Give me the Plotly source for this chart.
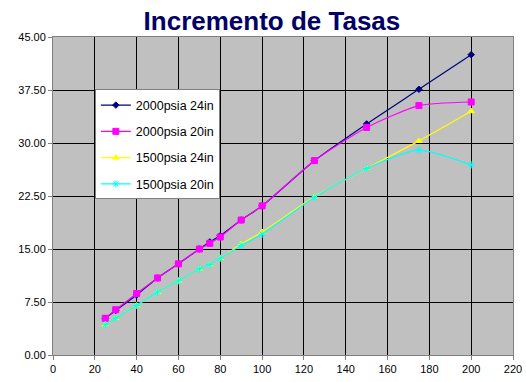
import plotly.graph_objects as go

# Caudal (x) y tasa (y) por presión y diámetro
x_vals = [25, 30, 40, 50, 60, 70, 75, 80, 90, 100, 125, 150, 175, 200]

p2000_24in = [5.2, 6.3, 8.5, 10.9, 12.9, 15.0, 16.0, 16.9, 19.1, 21.1, 27.5, 32.7, 37.6, 42.5]
p2000_20in = [5.2, 6.4, 8.7, 10.9, 12.9, 15.0, 15.8, 16.7, 19.1, 21.1, 27.5, 32.2, 35.3, 35.8]
p1500_24in = [4.3, 5.2, 7.0, 8.9, 10.5, 12.2, 12.8, 13.7, 15.7, 17.4, 22.4, 26.4, 30.3, 34.5]
p1500_20in = [4.3, 5.2, 7.0, 8.9, 10.5, 12.2, 12.8, 13.7, 15.5, 17.1, 22.3, 26.4, 29.0, 26.9]

series_names = ["2000psia 24in", "2000psia 20in", "1500psia 24in", "1500psia 20in"]
series_vals = [p2000_24in, p2000_20in, p1500_24in, p1500_20in]
colors = ["#000080", "#FF00FF", "#FFFF00", "#00FFFF"]
symbols = ["diamond", "square", "triangle-up", "asterisk-open"]
sizes = [5, 6, 6, 6]

y_ticks = [0, 7.5, 15, 22.5, 30, 37.5, 45]
x_ticks = list(range(0, 221, 20))

fig = go.Figure()
for i, (name, vals) in enumerate(zip(series_names, series_vals)):
    fig.add_trace(go.Scatter(
        x=x_vals, y=vals, name=name, mode="lines+markers",
        legendgroup=f"g{i}",
        line=dict(color=colors[i], width=1.2, shape="spline", smoothing=0.6),
        marker=dict(symbol=symbols[i], size=sizes[i], color=colors[i],
                    line=dict(color=colors[i], width=1)),
    ))

fig.update_layout(
    width=526, height=382,
    margin=dict(l=53, r=13, t=37, b=27),
    paper_bgcolor="white",
    plot_bgcolor="#C0C0C0",
    font=dict(family="Liberation Sans, Arial, sans-serif", size=11, color="black"),
    title=dict(text="<b>Incremento de Tasas</b>", x=0.517, xanchor="center",
               y=0.944, yanchor="middle",
               font=dict(size=26, color="#000066", family="Liberation Sans, Arial, sans-serif")),
    showlegend=True,
    legend=dict(x=0.091, y=0.835, xanchor="left", yanchor="top",
                bgcolor="white", bordercolor="#808080", borderwidth=1,
                traceorder="grouped", tracegroupgap=7,
                itemwidth=30,
                font=dict(size=12.5)),
    xaxis=dict(range=[0, 220], tickvals=x_ticks, showgrid=True, automargin=False,
               gridcolor="black", gridwidth=1, zeroline=False,
               ticks="outside", ticklen=4, tickcolor="#808080",
               showline=True, linecolor="#808080", linewidth=1, mirror=True),
    yaxis=dict(range=[0, 45], tickvals=y_ticks, tickformat=".2f", showgrid=True,
               automargin=False,
               gridcolor="black", gridwidth=1, zeroline=False,
               ticks="outside", ticklen=4, tickcolor="#808080",
               showline=True, linecolor="#808080", linewidth=1, mirror=True),
)

fig.write_html("out.html")
